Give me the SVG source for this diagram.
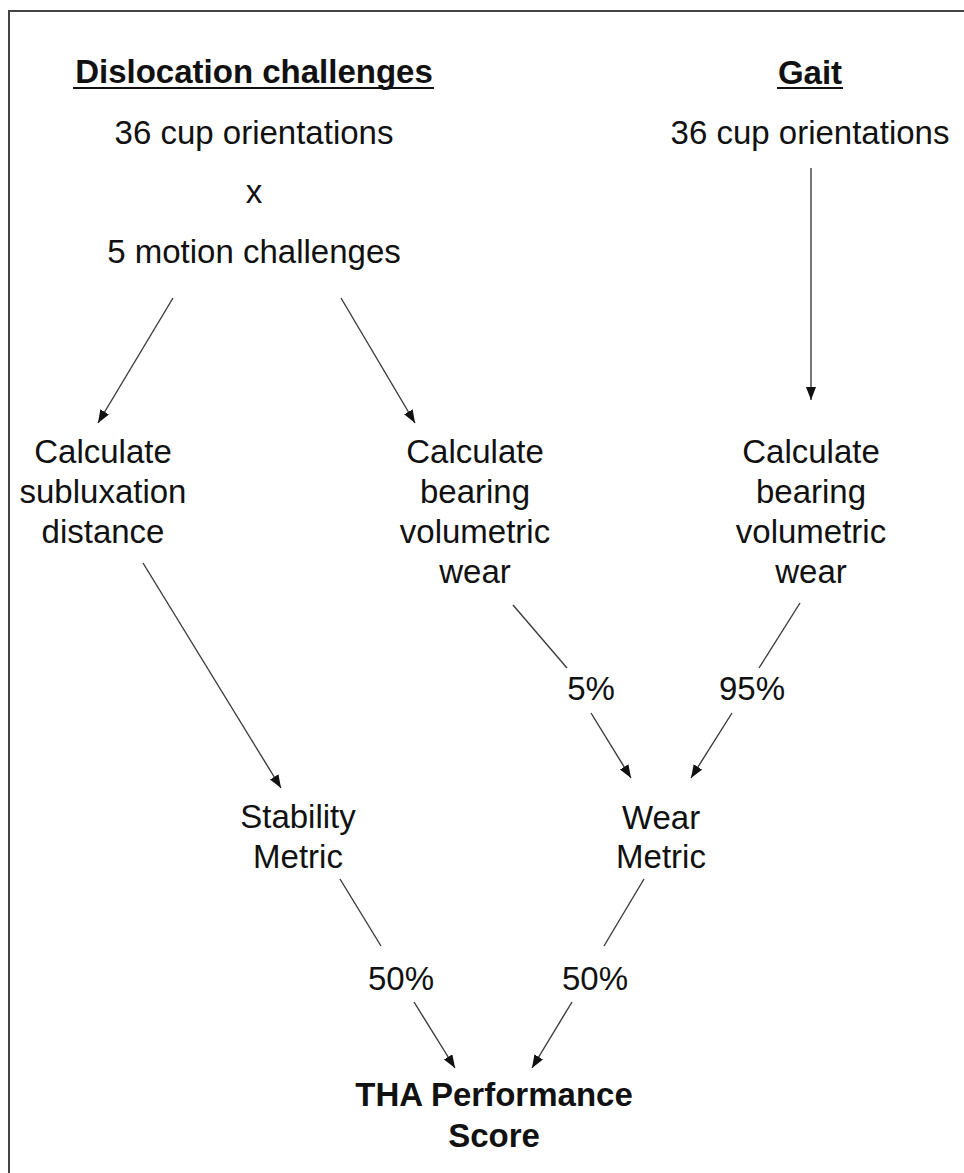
<svg xmlns="http://www.w3.org/2000/svg" width="964" height="1173" viewBox="0 0 964 1173">
<style>
text{font-family:"Liberation Sans",Arial,sans-serif;font-size:33px;fill:#111;text-anchor:middle}
.b{font-weight:bold}
.c{stroke:#3c3c3c;stroke-width:1.4;fill:none}
.u{stroke:#111;stroke-width:2}
</style>
<defs>
<marker id="ah" markerUnits="userSpaceOnUse" markerWidth="14" markerHeight="12" refX="13" refY="5" orient="auto">
<path d="M0,0 L13,5 L0,10 z" fill="#111"/>
</marker>
</defs>
<rect width="964" height="1173" fill="#fff"/>
<path d="M9,1173 V11 H964" stroke="#444" stroke-width="2" fill="none"/>
<g id="dislocation">
<text class="b" x="254" y="83">Dislocation challenges</text>
<line class="u" x1="73" y1="88" x2="434" y2="88"/>
<text x="254" y="144">36 cup orientations</text>
<text x="254" y="203">x</text>
<text x="254" y="263">5 motion challenges</text>
</g>
<g id="gait">
<text class="b" x="810" y="84">Gait</text>
<line class="u" x1="777" y1="88" x2="843" y2="88"/>
<text x="810" y="144">36 cup orientations</text>
</g>
<g id="subluxation">
<text x="103" y="463">Calculate</text>
<text x="103" y="503">subluxation</text>
<text x="103" y="543">distance</text>
</g>
<g id="wear1">
<text x="475" y="463">Calculate</text>
<text x="475" y="503">bearing</text>
<text x="475" y="543">volumetric</text>
<text x="475" y="583">wear</text>
</g>
<g id="wear2">
<text x="811" y="463">Calculate</text>
<text x="811" y="503">bearing</text>
<text x="811" y="543">volumetric</text>
<text x="811" y="583">wear</text>
</g>
<g id="stability">
<text x="298" y="828">Stability</text>
<text x="298" y="868">Metric</text>
</g>
<g id="wearmetric">
<text x="661" y="829">Wear</text>
<text x="661" y="868">Metric</text>
</g>
<g id="score">
<text class="b" x="494" y="1106">THA Performance</text>
<text class="b" x="494" y="1147">Score</text>
</g>
<g id="connectors">
<line class="c" x1="173" y1="298" x2="98" y2="423" marker-end="url(#ah)"/>
<line class="c" x1="341" y1="298" x2="415" y2="423" marker-end="url(#ah)"/>
<line class="c" x1="811" y1="168" x2="811" y2="400" marker-end="url(#ah)"/>
<line class="c" x1="143" y1="563" x2="281" y2="788" marker-end="url(#ah)"/>
<line class="c" x1="513" y1="605" x2="567" y2="668"/>
<line class="c" x1="591" y1="713" x2="631" y2="778" marker-end="url(#ah)"/>
<line class="c" x1="800" y1="603" x2="759" y2="668"/>
<line class="c" x1="732" y1="713" x2="691" y2="778" marker-end="url(#ah)"/>
<line class="c" x1="340" y1="879" x2="381" y2="946"/>
<line class="c" x1="414" y1="1002" x2="455" y2="1068" marker-end="url(#ah)"/>
<line class="c" x1="644" y1="879" x2="604" y2="946"/>
<line class="c" x1="572" y1="1002" x2="532" y2="1068" marker-end="url(#ah)"/>
<text x="591" y="700">5%</text>
<text x="752" y="700">95%</text>
<text x="401" y="990">50%</text>
<text x="595" y="990">50%</text>
</g>
</svg>
